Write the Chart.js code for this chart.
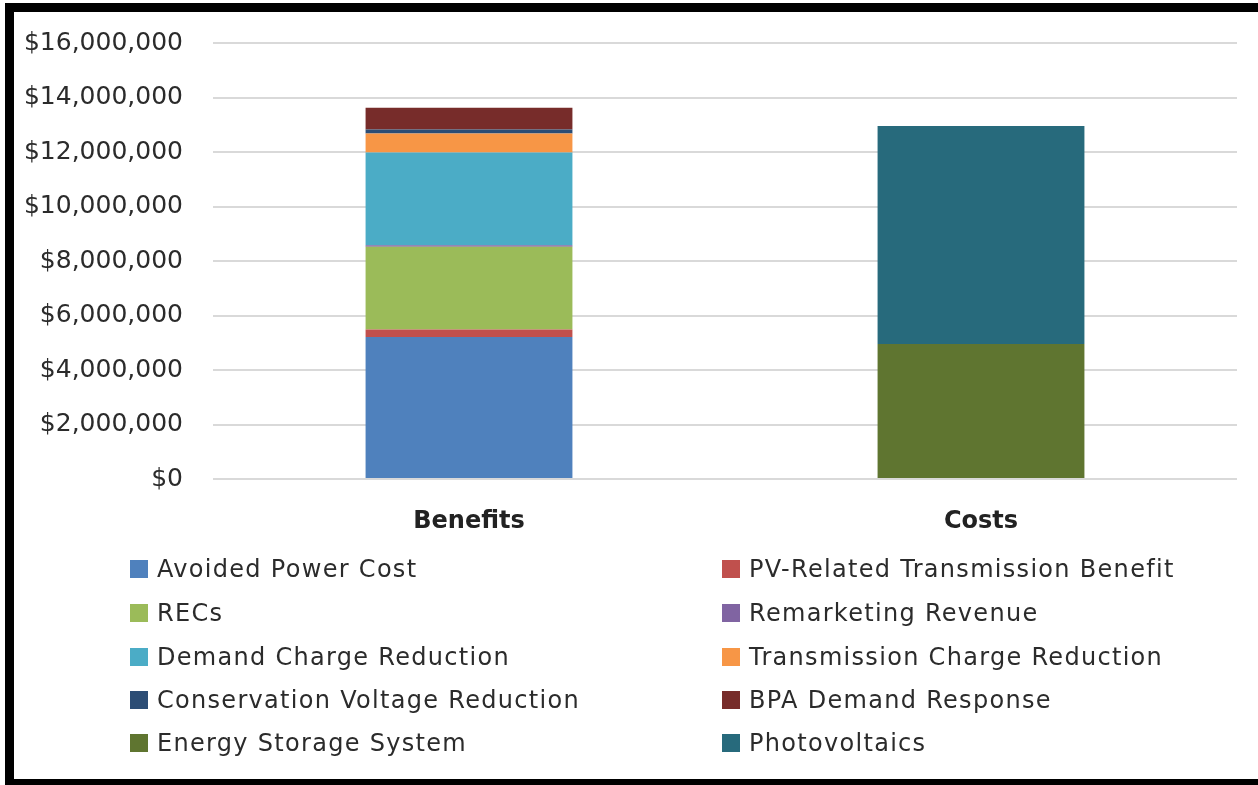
<!DOCTYPE html>
<html>
<head>
<meta charset="utf-8">
<script src="https://cdn.jsdelivr.net/npm/chart.js@4.4.1/dist/chart.umd.min.js"></script>
<style>
  html, body { margin: 0; padding: 0; background: #fff; overflow: hidden; }
  body { width: 1258px; height: 785px; position: relative; }
  #frame {
    position: absolute; left: 5px; top: 3px; width: 1260px; height: 767px;
    border: 9px solid #000; border-right: none; box-sizing: content-box;
  }
  #wrap { position: absolute; left: 13px; top: 13px; width: 1240px; height: 540px; }
  #legend { position: absolute; left: 0; top: 0; width: 1258px; height: 785px; pointer-events: none; }
  .item {
    position: absolute; height: 30px; display: flex; align-items: center;
    font-family: "DejaVu Sans", sans-serif; font-size: 24px; letter-spacing: 1.3px; color: #2b2b2b;
    white-space: nowrap;
  }
  .box { width: 18px; height: 18px; margin-right: 9px; flex: none; }
</style>
</head>
<body>
<div id="frame"></div>
<div id="wrap"><canvas id="chart"></canvas></div>
<div id="legend"></div>
<script>
// Categories and series (values in dollars)
const categories = ['Benefits', 'Costs'];
const seriesNames = [
    'Avoided Power Cost', 'PV-Related Transmission Benefit',
    'RECs', 'Remarketing Revenue',
    'Demand Charge Reduction', 'Transmission Charge Reduction',
    'Conservation Voltage Reduction', 'BPA Demand Response',
    'Energy Storage System', 'Photovoltaics'
];
const avoidedPowerCost = [5210000, null];
const pvTransmissionBenefit = [280000, null];
const recs = [3030000, null];
const remarketingRevenue = [60000, null];
const demandChargeReduction = [3400000, null];
const transmissionChargeReduction = [700000, null];
const conservationVoltageReduction = [150000, null];
const bpaDemandResponse = [790000, null];
const energyStorageSystem = [null, 4950000];
const photovoltaics = [null, 8000000];
const yTicks = [0, 2000000, 4000000, 6000000, 8000000, 10000000, 12000000, 14000000, 16000000];

const seriesValues = [
    avoidedPowerCost, pvTransmissionBenefit, recs, remarketingRevenue,
    demandChargeReduction, transmissionChargeReduction,
    conservationVoltageReduction, bpaDemandResponse,
    energyStorageSystem, photovoltaics
];
const colors = [
    '#4F81BD', '#C0504D', '#9BBB59', '#8064A2', '#4BACC6',
    '#F79646', '#2C4D75', '#772C2A', '#5F7530', '#276A7C'
];

const datasets = seriesNames.map(function(name, i) {
    return {
        label: name,
        data: seriesValues[i],
        backgroundColor: colors[i],
        borderWidth: 0,
        barPercentage: 0.404,
        categoryPercentage: 1.0
    };
});

const ctx = document.getElementById('chart').getContext('2d');
const chart = new Chart(ctx, {
    type: 'bar',
    data: { labels: categories, datasets: datasets },
    options: {
        responsive: true,
        maintainAspectRatio: false,
        animation: false,
        layout: { padding: { left: 10, right: 16, top: 30, bottom: 14 } },
        plugins: {
            legend: { display: false },
            tooltip: { enabled: false }
        },
        scales: {
            x: {
                stacked: true,
                grid: { display: false, drawTicks: false },
                border: { display: false },
                ticks: {
                    padding: 28,
                    color: '#222',
                    font: { family: 'DejaVu Sans', size: 24, weight: 'bold' }
                },
                afterFit: function(s) { s.height = 60; }
            },
            y: {
                stacked: true,
                min: 0,
                max: 16000000,
                afterBuildTicks: function(s) {
                    s.ticks = yTicks.map(function(v) { return { value: v }; });
                },
                grid: { color: '#d9d9d9', lineWidth: 2, drawTicks: false },
                border: { display: false },
                ticks: {
                    padding: 30,
                    color: '#2b2b2b',
                    font: { family: 'DejaVu Sans', size: 25 },
                    callback: function(v) { return '$' + Number(v).toLocaleString('en-US'); }
                },
                afterFit: function(s) {
                    s.width = 190;
                    // keep the plot top at the layout padding, not label padding
                    s.paddingTop = 0;
                    s.paddingBottom = 0;
                }
            }
        }
    }
});

// Two-column legend built from the chart's datasets
const legend = document.getElementById('legend');
const colX = [130, 722];
const rowY = [554, 598, 642, 685, 728];
chart.data.datasets.forEach(function(ds, i) {
    const item = document.createElement('div');
    item.className = 'item';
    item.style.left = colX[i % 2] + 'px';
    item.style.top = rowY[Math.floor(i / 2)] + 'px';
    const box = document.createElement('span');
    box.className = 'box';
    box.style.background = ds.backgroundColor;
    item.appendChild(box);
    item.appendChild(document.createTextNode(ds.label));
    legend.appendChild(item);
});
</script>
</body>
</html>
